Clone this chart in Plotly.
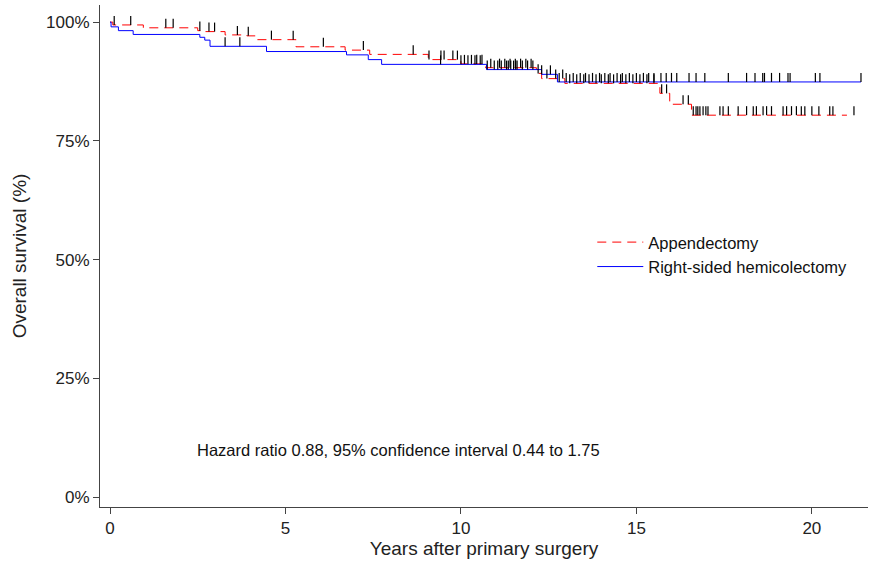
import numpy as np
import plotly.graph_objects as go

# ---------------- data ----------------
app_times = [0, 0.08, 0.95, 2.5, 2.6, 3.28, 3.9, 4.2, 5.3, 6.7, 7.4, 9.07, 10.0, 10.7,
             12.15, 12.3, 12.96, 15.67, 15.95, 16.57, 21.0]
app_surv = [100, 99.4, 98.8, 98.2, 98.0, 97.3, 97.1, 96.3, 94.8, 94.1, 93.2, 92.1, 91.2, 90.4,
            89.2, 88.1, 87.1, 85.0, 82.7, 80.4, 80.4]

rhc_times = [0, 0.03, 0.24, 0.66, 2.56, 2.7, 2.85, 4.46, 6.74, 7.36, 7.74, 10.73, 12.3, 12.75, 21.4]
rhc_surv = [100, 99.0, 98.2, 97.4, 96.8, 96.2, 94.9, 93.8, 93.1, 92.1, 91.1, 90.0, 89.0, 87.4, 87.4]

app_censor = [0.12, 0.59, 1.59, 1.8, 2.56, 2.82, 2.98, 3.63, 3.94, 4.6, 5.22, 6.08, 7.22, 8.64,
              9.09, 9.43, 9.52, 9.77, 9.9, 10.1, 10.3, 10.45, 10.6, 10.85, 11.1, 11.25, 11.4,
              11.55, 11.7, 11.85, 12.0, 12.2, 12.45, 12.7, 12.9, 13.1, 13.3, 13.5, 13.65,
              13.85, 14.0, 14.2, 14.35, 14.55, 14.7, 14.9, 15.1, 15.3, 15.5, 15.72, 15.86,
              16.33, 16.48, 16.62, 16.7, 16.75, 16.81, 16.9, 16.98, 17.04, 17.38, 17.47,
              17.62, 17.9, 18.14, 18.33, 18.42, 18.61, 18.71, 18.85, 19.18, 19.28, 19.42,
              19.56, 19.7, 19.8, 20.0, 20.2, 20.51, 20.6, 21.2]
rhc_censor = [3.28, 3.7, 9.42, 10.0, 10.2, 10.4, 10.55, 10.75, 10.95, 11.05, 11.15, 11.3,
              11.35, 11.42, 11.5, 11.56, 11.6, 11.75, 11.9, 12.05, 12.3, 12.55, 12.8, 13.0,
              13.2, 13.4, 13.55, 13.75, 13.95, 14.1, 14.25, 14.45, 14.6, 14.8, 15.0, 15.2,
              15.35, 15.5, 15.7, 15.85, 16.0, 16.15, 16.5, 16.7, 16.95, 17.62, 18.14, 18.38,
              18.6, 18.65, 18.85, 19.08, 19.32, 19.38, 20.1, 20.23, 21.4]

x_ticks = [0, 5, 10, 15, 20]
y_ticks = [0, 25, 50, 75, 100]
y_tick_labels = ["0%", "25%", "50%", "75%", "100%"]

hr_text = "Hazard ratio 0.88, 95% confidence interval 0.44 to 1.75"

TICK_H = 1.9  # censor mark height in % units


def surv_at(times, surv, t):
    i = np.searchsorted(np.array(times), t, side="right") - 1
    return np.array(surv)[max(i, 0)]


def censor_segments(times, surv, cens):
    xs, ys = [], []
    for t in cens:
        s = surv_at(times, surv, t)
        xs += [t, t, None]
        ys += [s, s + TICK_H, None]
    return xs, ys


fig = go.Figure()

fig.add_trace(go.Scatter(x=app_times, y=app_surv, mode="lines", line_shape="hv",
                         line=dict(color="#FF0000", width=1, dash="9px,6px"),
                         name="Appendectomy"))
fig.add_trace(go.Scatter(x=rhc_times, y=rhc_surv, mode="lines", line_shape="hv",
                         line=dict(color="#0000FF", width=1),
                         name="Right-sided hemicolectomy"))

for times, surv, cens in [(app_times, app_surv, app_censor), (rhc_times, rhc_surv, rhc_censor)]:
    cx, cy = censor_segments(times, surv, cens)
    fig.add_trace(go.Scatter(x=cx, y=cy, mode="lines", line=dict(color="#000000", width=1.2),
                             showlegend=False, hoverinfo="skip"))

fig.add_annotation(x=2.42, y=9.9, xref="x", yref="y", text=hr_text, showarrow=False,
                   xanchor="left", yanchor="middle",
                   font=dict(family="Arial, Liberation Sans", size=16.5, color="#111111"))

fig.update_layout(
    width=871, height=567,
    margin=dict(l=100, r=3, t=5, b=60),
    plot_bgcolor="white", paper_bgcolor="white",
    font=dict(family="Arial, Liberation Sans", size=17, color="#222222"),
    legend=dict(x=0.641, y=0.562, xanchor="left", yanchor="top",
                bgcolor="rgba(0,0,0,0)", font=dict(size=16.5, color="#111111"),
                tracegroupgap=0, itemwidth=46),
    showlegend=True,
)
fig.update_xaxes(range=[-0.285, 21.6], tickvals=x_ticks, ticks="outside", ticklen=6,
                 tickcolor="#444444", showline=True, linecolor="#444444", linewidth=1,
                 showgrid=False, zeroline=False, automargin=False,
                 title=dict(text="Years after primary surgery", font=dict(size=19), standoff=4),
                 tickfont=dict(size=17))
fig.update_yaxes(range=[-2.1, 103.6], tickvals=y_ticks, ticktext=y_tick_labels, ticks="outside",
                 ticklen=6, tickcolor="#444444", showline=True, linecolor="#444444", linewidth=1,
                 showgrid=False, zeroline=False, automargin=False,
                 title=dict(text="Overall survival (%)", font=dict(size=19), standoff=14),
                 tickfont=dict(size=17))

fig.write_html("out.html", config={"displayModeBar": False},
               post_script="document.body.style.margin='0';")
